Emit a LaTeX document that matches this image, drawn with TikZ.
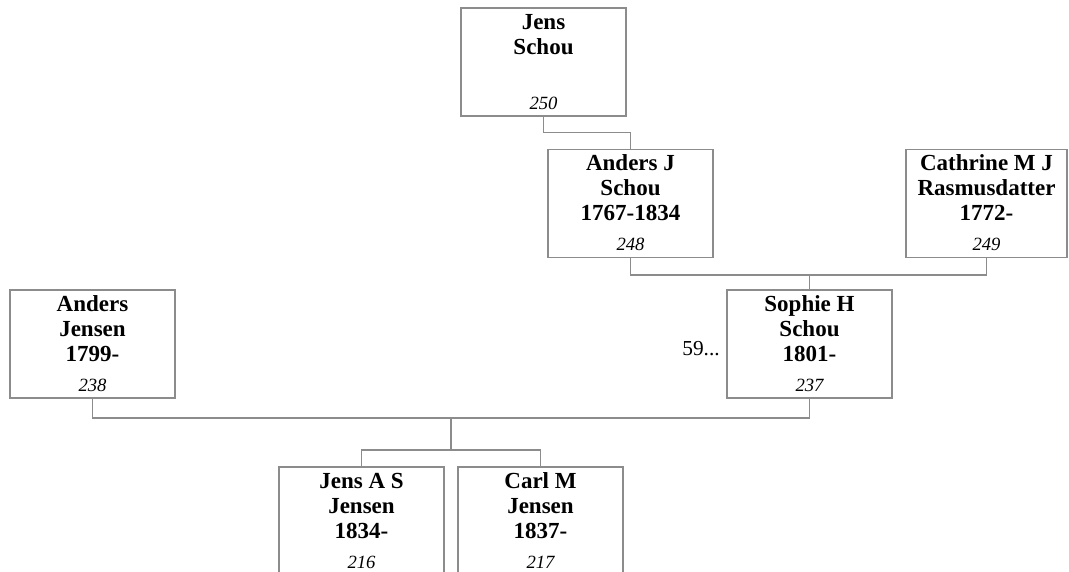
\documentclass[tikz,border=0pt]{standalone}
\usepackage{fontspec}
\setmainfont{Liberation Serif}
\definecolor{boxline}{HTML}{8C8C8C}
\newcommand\pinfo[4]{\parbox[c][81pt][t]{120pt}{\centering\fontsize{17.25}{18.75}\selectfont\bfseries
\rule{0pt}{15.75pt}#1\\#2\\#3\mbox{}\\[3.75pt]{\mdseries\itshape\fontsize{14}{18.75}\selectfont #4}\par}}
\tikzset{
  person/.style={draw=boxline, line width=0.9pt, fill=white, inner sep=0pt,
    minimum width=123.75pt, minimum height=81pt},
  link/.style={draw=boxline, line width=0.9pt},
}
\begin{document}
\begin{tikzpicture}[x=0.75pt,y=-0.75pt]
\useasboundingbox (0,0) rectangle (1069,571);
\begin{scope}
\clip (0,0) rectangle (1069,571);
\node[person] (js) at (543.5,62) {\pinfo{Jens}{Schou}{}{250}};
\node[person] (aj) at (630.5,203.5) {\pinfo{Anders J}{Schou}{1767-1834}{248}};
\node[person, minimum width=120.75pt] (cm) at (986.5,203.5) {\pinfo{Cathrine M J}{Rasmusdatter}{1772-}{249}};
\node[person] (ajn) at (92.5,344) {\pinfo{Anders}{Jensen}{1799-}{238}};
\node[person] (sh) at (809.5,344) {\pinfo{Sophie H}{Schou}{1801-}{237}};
\node[person] (jas) at (361.5,521) {\pinfo{Jens A S}{Jensen}{1834-}{216}};
\node[person] (cmj) at (540.5,521) {\pinfo{Carl M}{Jensen}{1837-}{217}};
\node[anchor=base east, inner sep=0pt, font=\fontsize{16}{18}\selectfont] (more) at (720,355) {59...};

\coordinate (p1) at (809.5,275);
\coordinate (p2) at (451,418);
\coordinate (p3) at (451,450);

\draw[link] (js.south) -- ++(0,16) -| (aj.north);
\draw[link] (aj.south) |- (p1) -| (cm.south);
\draw[link] (p1) -- (sh.north);
\draw[link] (ajn.south) |- (p2) -| (sh.south);
\draw[link] (p2) -- (p3);
\draw[link] (jas.north) |- (p3) -| (cmj.north);
\end{scope}
\end{tikzpicture}
\end{document}
